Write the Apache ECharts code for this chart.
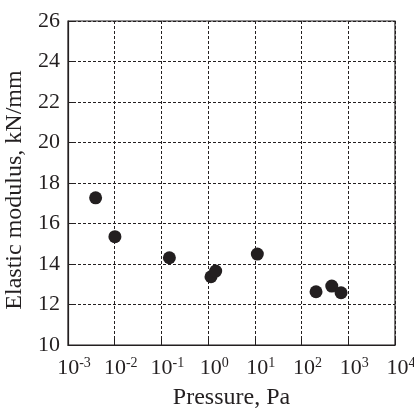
<!DOCTYPE html>
<html>
<head>
<meta charset="utf-8">
<script src="https://cdn.jsdelivr.net/npm/echarts@6/dist/echarts.min.js"></script>
<style>
html,body{margin:0;padding:0;background:#fff;}
#chart{width:414px;height:414px;}
</style>
</head>
<body>
<div id="chart"></div>
<script>
// Pressure (Pa) and elastic modulus (kN/mm) of each measurement
const pressure = [0.0039, 0.0101, 0.148, 1.15, 1.45, 11.3, 204, 443, 701];
const modulus  = [17.27, 15.35, 14.31, 13.37, 13.65, 14.49, 12.63, 12.91, 12.58];

// Decade exponents shown under the pressure axis
const xExponents = ['-3', '-2', '-1', '0', '1', '2', '3', '4'];
const yTicks = [10, 12, 14, 16, 18, 20, 22, 24, 26];

const font = '"Liberation Serif", "Times New Roman", serif';
const ink = '#231f20';

const chart = echarts.init(document.getElementById('chart'));
const dash = { color: ink, width: 1, type: [3, 2] };

chart.setOption({
  animation: false,
  backgroundColor: '#fff',
  grid: {
    show: true, borderColor: ink, borderWidth: 1.2,
    left: 68, right: 19, top: 21, bottom: 69,
    containLabel: false,
    outerBoundsMode: 'none'
  },
  xAxis: {
    type: 'log',
    logBase: 10,
    min: 1e-3,
    max: 1e4,
    name: 'Pressure, Pa',
    nameLocation: 'middle',
    nameGap: 41,
    nameTextStyle: { fontFamily: font, fontSize: 24, color: ink },
    axisLine: { show: true, lineStyle: { color: ink, width: 1.2 } },
    axisTick: { show: true, inside: true, length: 6, lineStyle: { color: ink } },
    splitLine: { show: true, lineStyle: dash },
    minorTick: { show: false },
    axisLabel: {
      margin: 11,
      hideOverlap: false,
      formatter: function (v) {
        const idx = Math.round(Math.log10(v)) + 3;
        return '{n|10}{s|' + xExponents[idx] + '}';
      },
      rich: {
        n: { fontFamily: font, fontSize: 22, color: ink, padding: [0, 0, 0, 12] },
        s: { fontFamily: font, fontSize: 14, color: ink, verticalAlign: 'top', padding: [0, 0, 10, 0] }
      }
    }
  },
  yAxis: {
    type: 'value',
    min: yTicks[0],
    max: yTicks[yTicks.length - 1],
    interval: 2,
    name: 'Elastic modulus, kN/mm',
    nameLocation: 'middle',
    nameGap: 37,
    nameRotate: 90,
    nameTextStyle: { fontFamily: font, fontSize: 24, color: ink, padding: [0, 14, 0, 0] },
    axisLine: { show: true, lineStyle: { color: ink, width: 1.2 } },
    axisTick: { show: true, inside: true, length: 6, lineStyle: { color: ink } },
    splitLine: { show: true, lineStyle: dash },
    axisLabel: { fontFamily: font, fontSize: 22, color: ink, margin: 8 }
  },
  series: [{
    type: 'scatter',
    symbol: 'circle',
    symbolSize: 13,
    itemStyle: { color: ink, opacity: 1 },
    data: pressure.map((p, i) => [p, modulus[i]])
  }]
});
</script>
</body>
</html>
